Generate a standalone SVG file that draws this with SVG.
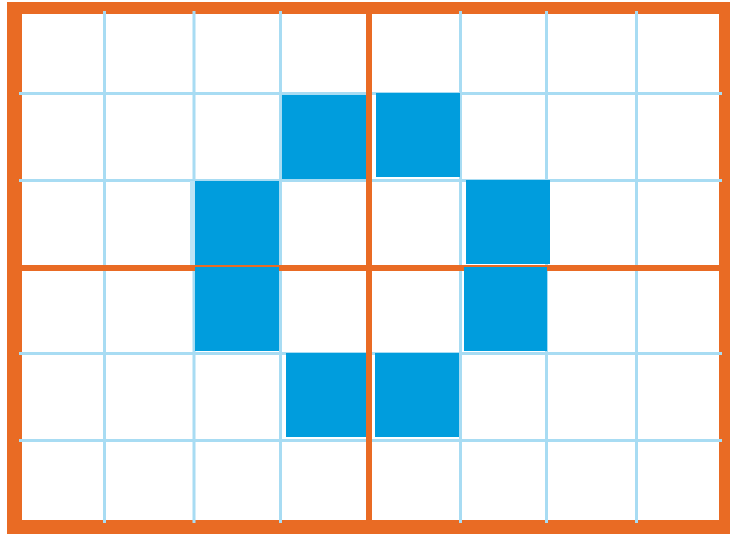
<svg xmlns="http://www.w3.org/2000/svg" width="730" height="534" viewBox="0 0 730 534">
<style>
.g{stroke:#a8dcf3;stroke-width:3;fill:none}
.o{fill:#e96b24}
.b{fill:#009ddd}
</style>
<rect width="730" height="534" fill="#ffffff"/>
<path class="o" fill-rule="evenodd" d="M7 2H730V534H7Z M22 14V520H719V14Z"/>
<g id="grid" class="g">
<line x1="104.5" y1="11" x2="104.5" y2="523"/>
<line x1="194" y1="11" x2="194" y2="523"/>
<line x1="280.5" y1="11" x2="280.5" y2="523"/>
<line x1="460.5" y1="11" x2="460.5" y2="523"/>
<line x1="546.5" y1="11" x2="546.5" y2="523"/>
<line x1="636.5" y1="11" x2="636.5" y2="523"/>
<line x1="19" y1="93.5" x2="722" y2="93.5"/>
<line x1="19" y1="180.5" x2="722" y2="180.5"/>
<line x1="19" y1="353.5" x2="722" y2="353.5"/>
<line x1="19" y1="440.5" x2="722" y2="440.5"/>
</g>
<rect x="190" y="181" width="5" height="84" fill="#bde5f6"/>
<g id="cells">
<rect class="b" x="282" y="95" width="84" height="84"/>
<rect class="b" x="376" y="93" width="84" height="84"/>
<rect class="b" x="195" y="181" width="84" height="84"/>
<rect class="b" x="466" y="180" width="84" height="84"/>
<rect class="b" x="286" y="353" width="84" height="84"/>
<rect class="b" x="375" y="353" width="84" height="84"/>
</g>
<rect class="o" x="366" y="14" width="6" height="506"/>
<rect class="o" x="22" y="265" width="697" height="6"/>
<g id="cells2">
<rect class="b" x="195" y="267" width="84" height="84"/>
<rect class="b" x="464" y="267" width="83" height="84"/>
</g>
</svg>
